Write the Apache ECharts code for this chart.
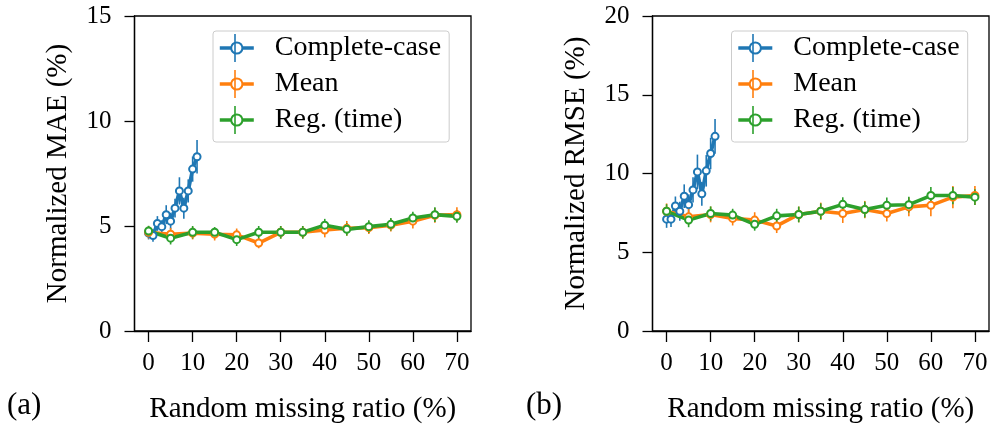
<!DOCTYPE html>
<html>
<head>
<meta charset="utf-8">
<script src="https://cdn.jsdelivr.net/npm/echarts@6/dist/echarts.min.js"></script>
<style>html,body{margin:0;padding:0;background:#fff}#c{width:992px;height:429px}</style>
</head>
<body>
<div id="c"></div>
<script>
// ---- data ----
const seriesNames = ['Complete-case', 'Mean', 'Reg. (time)'];
const xTicks = [0, 10, 20, 30, 40, 50, 60, 70];
const xComplete = [0, 1, 2, 3, 4, 5, 6, 7, 8, 9, 10, 11];
const xRatio = [0, 5, 10, 15, 20, 25, 30, 35, 40, 45, 50, 55, 60, 65, 70];

// (a) Normalized MAE (%)
const maeComplete = [4.66, 4.55, 5.12, 4.97, 5.54, 5.23, 5.85, 6.67, 5.85, 6.67, 7.71, 8.30];
const maeCompleteErr = [0.3, 0.3, 0.35, 0.3, 0.45, 0.4, 0.45, 0.65, 0.5, 0.55, 0.6, 0.8];
const maeMean = [4.70, 4.61, 4.66, 4.61, 4.58, 4.19, 4.70, 4.70, 4.81, 4.89, 4.92, 5.04, 5.23, 5.51, 5.54];
const maeMeanErr = [0.3, 0.3, 0.3, 0.3, 0.3, 0.25, 0.3, 0.3, 0.35, 0.35, 0.3, 0.3, 0.35, 0.35, 0.35];
const maeReg = [4.76, 4.42, 4.70, 4.70, 4.35, 4.70, 4.70, 4.70, 5.04, 4.84, 4.97, 5.08, 5.38, 5.54, 5.46];
const maeRegErr = [0.25, 0.3, 0.3, 0.25, 0.3, 0.3, 0.3, 0.3, 0.3, 0.3, 0.3, 0.3, 0.3, 0.35, 0.3];

// (b) Normalized RMSE (%)
const rmseComplete = [7.1, 7.1, 7.94, 7.6, 8.56, 8.02, 8.96, 10.1, 8.71, 10.17, 11.27, 12.36];
const rmseCompleteErr = [0.55, 0.5, 0.6, 0.6, 0.75, 0.65, 0.8, 1.1, 0.75, 1.0, 1.0, 1.1];
const rmseMean = [7.6, 7.25, 7.4, 7.15, 7.04, 6.67, 7.4, 7.6, 7.46, 7.71, 7.46, 7.88, 7.98, 8.5, 8.6];
const rmseMeanErr = [0.5, 0.5, 0.5, 0.45, 0.5, 0.45, 0.5, 0.55, 0.6, 0.55, 0.5, 0.6, 0.7, 0.7, 0.6];
const rmseReg = [7.6, 7.04, 7.46, 7.36, 6.77, 7.31, 7.4, 7.6, 8.04, 7.71, 7.98, 8.02, 8.6, 8.6, 8.5];
const rmseRegErr = [0.45, 0.45, 0.45, 0.4, 0.4, 0.45, 0.5, 0.5, 0.45, 0.5, 0.5, 0.5, 0.55, 0.55, 0.5];

// ---- styling ----
const colors = ['#1f77b4', '#ff7f0e', '#2ca02c'];
const FONT = '"Liberation Serif", "DejaVu Serif", serif';

const chart = echarts.init(document.getElementById('c'), null, {renderer: 'canvas'});

function errSeries(x, y, e, color, gi) {
  return {
    type: 'custom', xAxisIndex: gi, yAxisIndex: gi, silent: true,
    data: x.map((v, i) => [v, y[i] - e[i], y[i] + e[i]]),
    renderItem: function (params, api) {
      const p1 = api.coord([api.value(0), api.value(1)]);
      const p2 = api.coord([api.value(0), api.value(2)]);
      return {type: 'line', shape: {x1: p1[0], y1: p1[1], x2: p2[0], y2: p2[1]},
              style: {stroke: color, lineWidth: 1.6}};
    }
  };
}
function lineSeries(name, x, y, color, gi) {
  return {
    name: name, type: 'line', xAxisIndex: gi, yAxisIndex: gi,
    data: x.map((v, i) => [v, y[i]]),
    symbol: 'emptyCircle', symbolSize: 7, showSymbol: true,
    lineStyle: {color: color, width: 3.6},
    itemStyle: {color: color, borderColor: color, borderWidth: 2.4},
    emphasis: {disabled: true}
  };
}

const grids = [
  {left: 134.5, top: 16, width: 336.5, height: 322.3},
  {left: 652.5, top: 16, width: 336.5, height: 322.3}
];
const yNames = ['Normalized MAE (%)', 'Normalized RMSE (%)'];
const yMax = [15, 20];

const xAxes = grids.map((g, i) => ({
  gridIndex: i, type: 'value', min: -3.2, max: 73.2,
  name: 'Random missing ratio (%)', nameLocation: 'middle', nameGap: 64,
  nameTextStyle: {fontFamily: FONT, fontSize: 29, color: '#000'},
  axisLine: {show: true, onZero: false, lineStyle: {color: '#000', width: 1.3}},
  axisTick: {show: true, length: 11, lineStyle: {color: '#000', width: 1.3}, customValues: xTicks},
  axisLabel: {fontFamily: FONT, fontSize: 25, color: '#000', margin: 20, customValues: xTicks},
  splitLine: {show: false}
}));
const yAxes = grids.map((g, i) => ({
  gridIndex: i, type: 'value', min: 0, max: yMax[i], interval: 5,
  name: yNames[i], nameLocation: 'middle', nameGap: 62,
  nameTextStyle: {fontFamily: FONT, fontSize: 29, color: '#000'},
  axisLine: {show: true, onZero: false, lineStyle: {color: '#000', width: 1.3}},
  axisTick: {show: true, length: 10, lineStyle: {color: '#000', width: 1.3}},
  axisLabel: {fontFamily: FONT, fontSize: 25, color: '#000', margin: 23},
  splitLine: {show: false}
}));

const legendBase = {
  orient: 'vertical', top: 31, itemWidth: 34, itemHeight: 14, itemGap: 6,
  padding: [2, 8, 7, 5],
  borderColor: '#cccccc', borderWidth: 1, borderRadius: 3,
  backgroundColor: 'rgba(255,255,255,0.8)',
  lineStyle: {width: 3.6},
  itemStyle: {borderWidth: 2.4},
  textStyle: {fontFamily: FONT, fontSize: 28, color: '#000', lineHeight: 30, padding: [0, 0, 0, 16]},
  selectedMode: false, data: seriesNames
};

const series = [
  errSeries(xComplete, maeComplete, maeCompleteErr, colors[0], 0),
  lineSeries(seriesNames[0], xComplete, maeComplete, colors[0], 0),
  errSeries(xRatio, maeMean, maeMeanErr, colors[1], 0),
  lineSeries(seriesNames[1], xRatio, maeMean, colors[1], 0),
  errSeries(xRatio, maeReg, maeRegErr, colors[2], 0),
  lineSeries(seriesNames[2], xRatio, maeReg, colors[2], 0),
  errSeries(xComplete, rmseComplete, rmseCompleteErr, colors[0], 1),
  lineSeries(seriesNames[0], xComplete, rmseComplete, colors[0], 1),
  errSeries(xRatio, rmseMean, rmseMeanErr, colors[1], 1),
  lineSeries(seriesNames[1], xRatio, rmseMean, colors[1], 1),
  errSeries(xRatio, rmseReg, rmseRegErr, colors[2], 1),
  lineSeries(seriesNames[2], xRatio, rmseReg, colors[2], 1)
];

// legend error-bar marks (vertical) at icon centres
const legendIconX = [235, 753];
const legendRowY = [48, 84, 120];
const graphics = [];
legendIconX.forEach(cx => legendRowY.forEach((cy, k) => graphics.push({
  type: 'line', z: 100, shape: {x1: cx, y1: cy - 14, x2: cx, y2: cy + 14},
  style: {stroke: colors[k], lineWidth: 1.6}
})));
graphics.push({type: 'text', left: 7, top: 390, style: {text: '(a)', font: '31px ' + FONT, fill: '#000'}});
graphics.push({type: 'text', left: 526, top: 390, style: {text: '(b)', font: '31px ' + FONT, fill: '#000'}});

chart.setOption({
  animation: false,
  grid: grids.map(g => Object.assign({show: true, borderColor: '#000', borderWidth: 1.3, backgroundColor: 'transparent'}, g)),
  xAxis: xAxes,
  yAxis: yAxes,
  legend: [
    Object.assign({}, legendBase, {left: 213}),
    Object.assign({}, legendBase, {left: 731.5})
  ],
  series: series,
  graphic: graphics
});
</script>
</body>
</html>
